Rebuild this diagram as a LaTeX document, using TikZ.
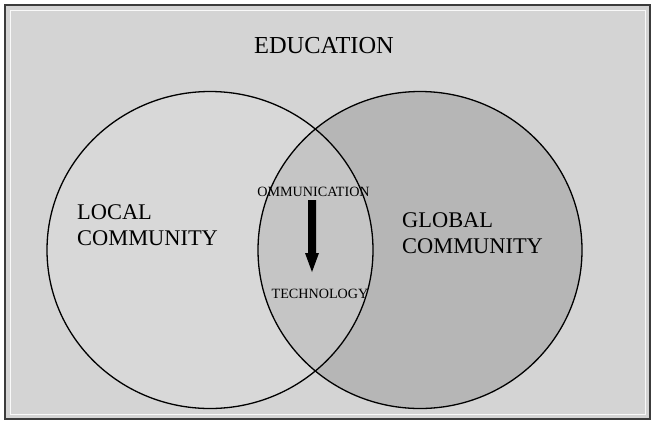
\documentclass[tikz,border=0pt]{standalone}
\usepackage{fontspec}
\setmainfont{Liberation Serif}
\definecolor{bgc}{RGB}{212,212,212}
\definecolor{leftc}{RGB}{216,216,216}
\definecolor{rightc}{RGB}{182,182,182}
\definecolor{midc}{RGB}{197,197,197}
\definecolor{framec}{RGB}{60,60,60}
\begin{document}
\begin{tikzpicture}[x=1bp,y=-1bp,
  bigtext/.style={font=\fontsize{22.5}{26.5}\selectfont, inner sep=0pt, align=left},
  smalltext/.style={font=\fontsize{14.2}{16}\selectfont, inner sep=0pt},
  circ/.style={draw=black, line width=1.3bp}]
\useasboundingbox (0,0) rectangle (654,426);
\fill[white] (0,0) rectangle (654,426);
\node[draw=framec, line width=1.6bp, fill=bgc, minimum width=645bp, minimum height=414bp, inner sep=0pt] (frame) at (327.5,212) {};
\draw[white!85!bgc, line width=0.6bp] (10,10) rectangle (645,414);
% circles
\coordinate (lc) at (210,250);
\coordinate (rc) at (420,250);
\fill[leftc] (lc) ellipse [x radius=163, y radius=158.5];
\fill[rightc] (rc) ellipse [x radius=162, y radius=158.5];
\begin{scope}
  \clip (lc) ellipse [x radius=163, y radius=158.5];
  \fill[midc] (rc) ellipse [x radius=162, y radius=158.5];
\end{scope}
\draw[circ] (lc) ellipse [x radius=163, y radius=158.5];
\draw[circ] (rc) ellipse [x radius=162, y radius=158.5];
% texts
\node[bigtext, font=\fontsize{24.5}{28}\selectfont] (edu) at (324,46) {EDUCATION};
\node[bigtext, anchor=west] (local) at (77,225) {LOCAL\\COMMUNITY};
\node[bigtext, anchor=west] (global) at (402,233) {GLOBAL\\COMMUNITY};
\node[smalltext] (comm) at (313.5,192) {OMMUNICATION};
\node[smalltext] (tech) at (320,294) {TECHNOLOGY};
% arrow
\fill[black] (308,200) -- (316,200) -- (316,253) -- (319,253) -- (312,272) -- (305,253) -- (308,253) -- cycle;
\end{tikzpicture}
\end{document}
